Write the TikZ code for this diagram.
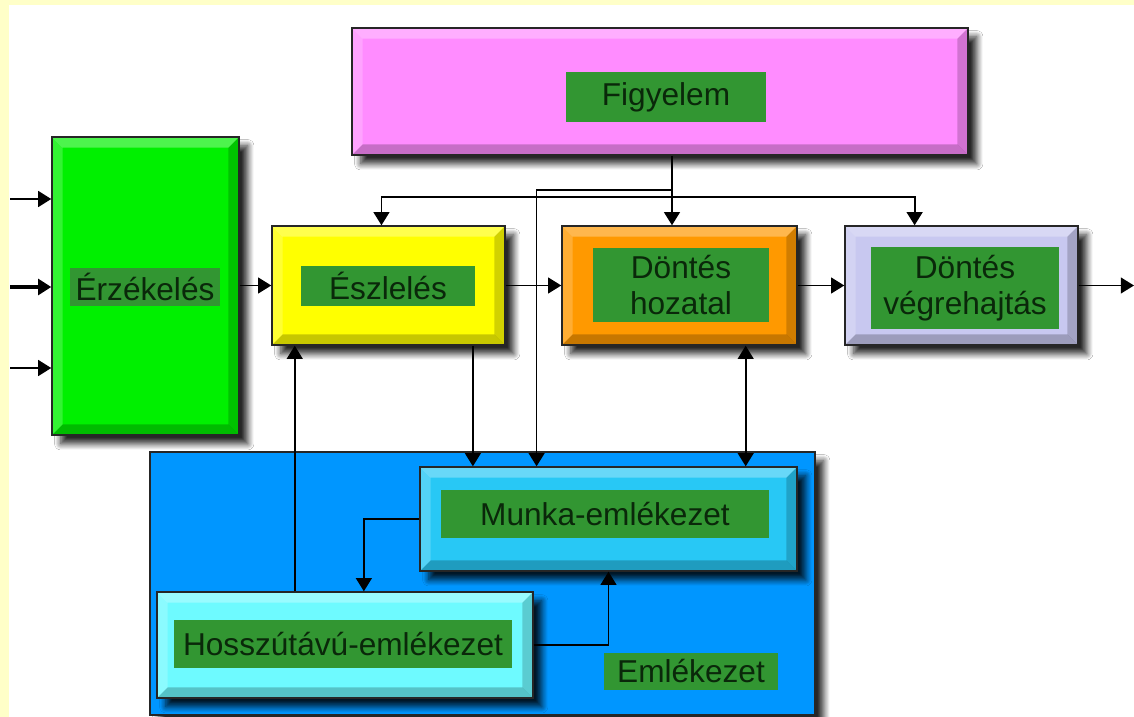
\documentclass[tikz,border=0pt]{standalone}
\usepackage{fontspec}
\setmainfont{Liberation Sans}
\usetikzlibrary{arrows.meta}
\usetikzlibrary{calc}
\usetikzlibrary{fit}
\usetikzlibrary{shadows.blur}

\definecolor{edgecol}{RGB}{255,255,200}
\definecolor{figcol}{RGB}{255,140,255}
\definecolor{erzcol}{RGB}{0,240,0}
\definecolor{eszcol}{RGB}{255,255,0}
\definecolor{dontcol}{RGB}{255,153,0}
\definecolor{vegcol}{RGB}{200,200,240}
\definecolor{memcol}{RGB}{0,150,255}
\definecolor{munkacol}{RGB}{40,200,245}
\definecolor{hosszcol}{RGB}{110,250,255}
\definecolor{labgreen}{RGB}{50,150,50}
\definecolor{labtext}{RGB}{10,40,10}

\tikzset{
  bevel/.style={path picture={
      \fill[white,opacity=.3] (path picture bounding box.north west) -- (path picture bounding box.north east)
        -- ([shift={(-6pt,-6pt)}]path picture bounding box.north east) -- ([shift={(6pt,-6pt)}]path picture bounding box.north west) -- cycle;
      \fill[white,opacity=.2] (path picture bounding box.north west) -- (path picture bounding box.south west)
        -- ([shift={(6pt,6pt)}]path picture bounding box.south west) -- ([shift={(6pt,-6pt)}]path picture bounding box.north west) -- cycle;
      \fill[black,opacity=.22] (path picture bounding box.south west) -- (path picture bounding box.south east)
        -- ([shift={(-6pt,6pt)}]path picture bounding box.south east) -- ([shift={(6pt,6pt)}]path picture bounding box.south west) -- cycle;
      \fill[black,opacity=.18] (path picture bounding box.north east) -- (path picture bounding box.south east)
        -- ([shift={(-6pt,6pt)}]path picture bounding box.south east) -- ([shift={(-6pt,-6pt)}]path picture bounding box.north east) -- cycle;
  }},
  box/.style={draw=black!85, line width=0.8pt, inner sep=0pt,
    blur shadow={shadow xshift=5pt, shadow yshift=-5pt, shadow blur radius=3.5pt,
      shadow blur steps=10, shadow opacity=85}},
  lab/.style={fill=labgreen, text=labtext, inner sep=0pt, align=center,
    font=\fontsize{18}{20.5}\selectfont},
  conn/.style={line width=1pt, black},
  >={Triangle[length=7.5pt,width=9pt]}
}

\begin{document}
\begin{tikzpicture}[x=0.02cm,y=-0.02cm]
  \useasboundingbox (0,0) rectangle (1134,717);
  \fill[white] (0,0) rectangle (1134,717);
  \fill[edgecol] (0,0) rectangle (9,717);
  \fill[edgecol] (0,0) rectangle (1134,5);

  % boxes
  \node[box, bevel, fill=figcol, fit={(352,28) (968,155)}] (figy) {};
  \node[box, bevel, fill=erzcol, fit={(52,137) (239,435)}] (erz) {};
  \node[box, bevel, fill=eszcol, fit={(272,226) (505,345)}] (esz) {};
  \node[box, bevel, fill=dontcol, fit={(562,226) (797,345)}] (dont) {};
  \node[box, bevel, fill=vegcol, fit={(845,226) (1078,345)}] (veg) {};
  \node[box, fill=memcol, fit={(150,452) (815,715)}] (mem) {};
  \node[box, bevel, fill=munkacol, fit={(420,467) (797,571)}] (munka) {};
  \node[box, bevel, fill=hosszcol, fit={(157,592) (533,698)}] (hossz) {};

  % labels
  \node[lab, minimum width=4cm, minimum height=1cm] (figyt) at (666,97) {Figyelem};
  \node[lab, minimum width=3cm, minimum height=0.76cm] (erzt) at (145,287) {Érzékelés};
  \node[lab, minimum width=3.5cm, minimum height=0.82cm] (eszt) at (388,286) {Észlelés};
  \node[lab, minimum width=3.54cm, minimum height=1.48cm] (dontt) at (681,285) {Döntés\\hozatal};
  \node[lab, minimum width=3.78cm, minimum height=1.64cm] (vegt) at (965,288) {Döntés\\végrehajtás};
  \node[lab, minimum width=6.56cm, minimum height=0.98cm] (munkat) at (605,514) {Munka-emlékezet};
  \node[lab, minimum width=6.78cm, minimum height=0.96cm] (hosszt) at (343,644) {Hosszútávú-emlékezet};
  \node[lab, minimum width=3.48cm, minimum height=0.74cm] (memt) at (691,671) {Emlékezet};

  % inputs and output
  \coordinate (in1) at (10,199);
  \coordinate (in2) at (10,287);
  \coordinate (in3) at (10,368);
  \coordinate (out) at (1134,287);
  \draw[conn, ->, line width=1.3pt] (in1) -- (in1 -| erz.west);
  \draw[conn, ->, line width=1.8pt] (in2) -- (in2 -| erz.west);
  \draw[conn, ->, line width=1.3pt] (in3) -- (in3 -| erz.west);
  \draw[conn, ->] (veg.east) -- (veg.east -| out);

  % main flow
  \draw[conn, ->] (erz.east |- esz.west) -- (esz.west);
  \draw[conn, ->] (esz.east) -- (dont.west);
  \draw[conn, ->] (dont.east) -- (veg.west);

  % attention
  \coordinate (bus) at (672,197);
  \coordinate (bus2) at (672,190);
  \draw[conn, ->] (figy.south -| bus) -- (dont.north -| bus);
  \draw[conn, ->] (bus) -| ($(esz.north west)!.47!(esz.north east)$);
  \draw[conn, ->] (bus) -| ($(veg.north west)!.3!(veg.north east)$);
  \draw[conn, ->] (bus2) -| ($(munka.north west)!.31!(munka.north east)$);

  % memory
  \draw[conn, ->] ($(esz.south west)!.86!(esz.south east)$) coordinate (e1) -- (e1 |- munka.north);
  \draw[conn, <->] ($(dont.south west)!.78!(dont.south east)$) coordinate (d1) -- (d1 |- munka.north);
  \path ($(esz.south west)!.1!(esz.south east)$) coordinate (e2);
  \draw[conn, ->] (e2 |- hossz.north) -- (e2);
  \draw[conn, ->] (munka.west) -| ($(hossz.north west)!.55!(hossz.north east)$);
  \draw[conn, ->] (hossz.east) -| (munka.south);
\end{tikzpicture}
\end{document}
